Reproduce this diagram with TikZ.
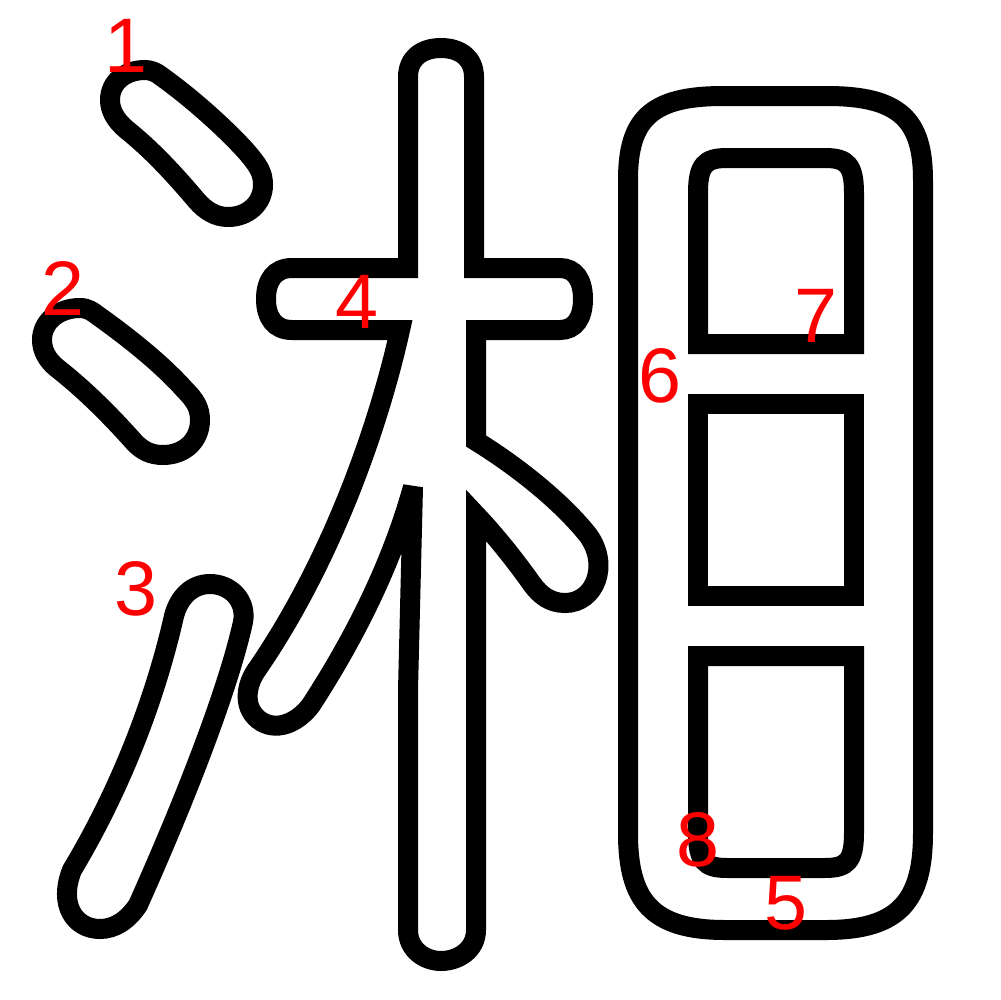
\documentclass[tikz,border=0pt]{standalone}
\usepackage{fontspec}
\setmainfont{Liberation Sans}
\usepackage{tikz}
\begin{document}
\begin{tikzpicture}[x=0.1mm, y=-0.1mm,
  glyph/.style={draw=black, line width=2mm, line join=miter, miter limit=3},
  num/.style={text=red, font=\fontsize{22}{22}\selectfont, inner sep=0pt},
]
  \useasboundingbox (0,0) rectangle (1000,1000);

  \draw[glyph] (158,74) .. controls (188,95) and (222,125) .. (245,150)
    .. controls (258,165) and (263,172) .. (263,185)
    .. controls (263,203) and (248,217) .. (228,217)
    .. controls (215,217) and (205,210) .. (197,201)
    .. controls (175,175) and (152,150) .. (127,130)
    .. controls (115,120) and (110,110) .. (110,100)
    .. controls (110,82) and (125,70) .. (145,70)
    .. controls (150,70) and (155,72) .. (158,74) -- cycle;

  \draw[glyph] (80,308) .. controls (88,308) and (93,312) .. (97,315)
    .. controls (125,335) and (160,362) .. (185,390)
    .. controls (195,400) and (200,408) .. (200,420)
    .. controls (200,440) and (185,455) .. (163,455)
    .. controls (150,455) and (142,450) .. (135,443)
    .. controls (110,415) and (85,390) .. (57,368)
    .. controls (47,360) and (42,350) .. (42,340)
    .. controls (42,322) and (58,308) .. (80,308) -- cycle;

  \draw[glyph] (210,584) .. controls (230,584) and (247,600) .. (243,622)
    .. controls (228,690) and (185,800) .. (138,905)
    .. controls (128,920) and (115,929) .. (100,929)
    .. controls (75,929) and (58,905) .. (72,870)
    .. controls (120,790) and (155,700) .. (174,616)
    .. controls (179,597) and (192,584) .. (210,584) -- cycle;

  \draw[glyph] (292,268) -- (408,268) -- (408,77)
    .. controls (408,58) and (422,48) .. (441,48)
    .. controls (460,48) and (474,58) .. (474,77)
    -- (474,268) -- (560,268)
    .. controls (575,268) and (583,280) .. (583,299)
    .. controls (583,318) and (575,330) .. (560,330)
    -- (476,330) -- (476,441)
    .. controls (515,465) and (560,500) .. (588,535)
    .. controls (610,565) and (595,603) .. (565,603)
    .. controls (550,603) and (540,595) .. (532,584)
    .. controls (515,560) and (495,535) .. (476,515)
    -- (476,930)
    .. controls (476,950) and (458,961) .. (441,961)
    .. controls (425,961) and (408,950) .. (408,930)
    -- (408,690) -- (413,487)
    .. controls (390,570) and (350,645) .. (311,705)
    .. controls (300,720) and (280,732) .. (262,722)
    .. controls (242,710) and (245,685) .. (258,668)
    .. controls (335,555) and (380,420) .. (400,330)
    -- (292,330)
    .. controls (275,330) and (266,318) .. (266,299)
    .. controls (266,280) and (275,268) .. (292,268) -- cycle;

  \draw[glyph] (628,180) .. controls (628,120) and (650,96) .. (723,96)
    -- (827,96) .. controls (900,96) and (923,120) .. (923,180)
    -- (923,833) .. controls (923,900) and (900,930) .. (826,930)
    -- (725,930) .. controls (651,930) and (628,900) .. (628,833) -- cycle;

  \draw[glyph] (698,344) -- (698,193)
    .. controls (698,165) and (705,158) .. (727,158) -- (825,158)
    .. controls (847,158) and (854,165) .. (854,193) -- (854,344) -- cycle;
  \draw[glyph] (698,404) rectangle (854,596);
  \draw[glyph] (698,656) -- (698,833)
    .. controls (698,861) and (705,868) .. (727,868) -- (825,868)
    .. controls (847,868) and (854,861) .. (854,833) -- (854,656) -- cycle;

  \node[num] (n1) at (126,46) {1};
  \node[num] (n2) at (63,288) {2};
  \node[num] (n3) at (136,589) {3};
  \node[num] (n4) at (357,302) {4};
  \node[num] (n5) at (786,903) {5};
  \node[num] (n6) at (660,376) {6};
  \node[num] (n7) at (816,316) {7};
  \node[num] (n8) at (698,840) {8};
\end{tikzpicture}
\end{document}
